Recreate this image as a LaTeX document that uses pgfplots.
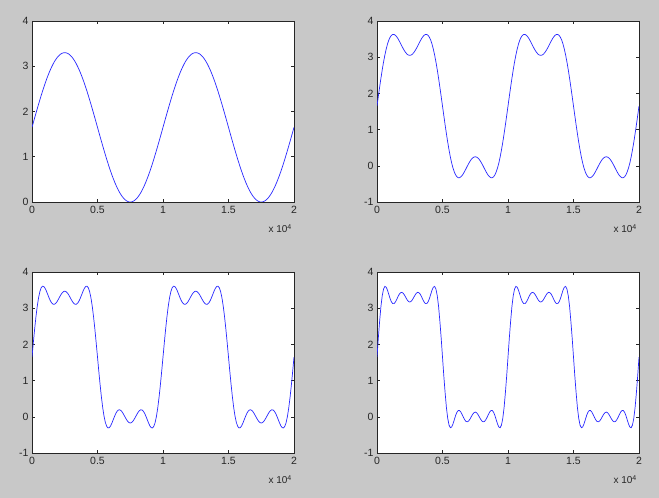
\documentclass[border=0pt]{standalone}
\usepackage{pgfplots}
\pgfplotsset{compat=1.18}
\usepackage{pgfplotstable}
\usepackage{fontspec}
\setmainfont{Liberation Sans}
\definecolor{bg}{RGB}{200,200,200}
\definecolor{ln}{RGB}{40,40,255}
\pgfplotstableread{
x a b c d
0 1.650 1.650 1.650 1.650
100 1.754 1.913 2.043 2.171
200 1.857 2.171 2.418 2.637
300 1.959 2.419 2.759 3.050
400 2.060 2.652 3.051 3.346
500 2.160 2.866 3.286 3.529
600 2.257 3.057 3.457 3.601
700 2.353 3.223 3.563 3.582
800 2.445 3.361 3.608 3.498
900 2.534 3.470 3.600 3.382
1000 2.620 3.551 3.551 3.265
1100 2.702 3.603 3.473 3.175
1200 2.779 3.628 3.380 3.127
1300 2.853 3.628 3.288 3.127
1400 2.921 3.606 3.206 3.169
1500 2.985 3.566 3.146 3.238
1600 3.043 3.512 3.112 3.317
1700 3.096 3.447 3.107 3.386
1800 3.143 3.377 3.130 3.429
1900 3.184 3.305 3.175 3.438
2000 3.219 3.237 3.237 3.413
2100 3.248 3.174 3.304 3.361
2200 3.271 3.123 3.369 3.295
2300 3.287 3.083 3.423 3.232
2400 3.297 3.059 3.458 3.187
2500 3.300 3.051 3.471 3.171
2600 3.297 3.059 3.458 3.187
2700 3.287 3.083 3.423 3.232
2800 3.271 3.123 3.369 3.295
2900 3.248 3.174 3.304 3.361
3000 3.219 3.237 3.237 3.413
3100 3.184 3.305 3.175 3.438
3200 3.143 3.377 3.130 3.429
3300 3.096 3.447 3.107 3.386
3400 3.043 3.512 3.112 3.317
3500 2.985 3.566 3.146 3.238
3600 2.921 3.606 3.206 3.169
3700 2.853 3.628 3.288 3.127
3800 2.779 3.628 3.380 3.127
3900 2.702 3.603 3.473 3.175
4000 2.620 3.551 3.551 3.265
4100 2.534 3.470 3.600 3.382
4200 2.445 3.361 3.608 3.498
4300 2.353 3.223 3.563 3.582
4400 2.257 3.057 3.457 3.601
4500 2.160 2.866 3.286 3.529
4600 2.060 2.652 3.051 3.346
4700 1.959 2.419 2.759 3.050
4800 1.857 2.171 2.418 2.637
4900 1.754 1.913 2.043 2.171
5000 1.650 1.650 1.650 1.650
5100 1.546 1.387 1.257 1.129
5200 1.443 1.129 0.882 0.663
5300 1.341 0.881 0.541 0.250
5400 1.240 0.648 0.249 -0.046
5500 1.140 0.434 0.014 -0.229
5600 1.043 0.243 -0.157 -0.301
5700 0.947 0.077 -0.263 -0.282
5800 0.855 -0.061 -0.308 -0.198
5900 0.766 -0.170 -0.300 -0.082
6000 0.680 -0.251 -0.251 0.035
6100 0.598 -0.303 -0.173 0.125
6200 0.521 -0.328 -0.080 0.173
6300 0.447 -0.328 0.012 0.173
6400 0.379 -0.306 0.094 0.131
6500 0.315 -0.266 0.154 0.062
6600 0.257 -0.212 0.188 -0.017
6700 0.204 -0.147 0.193 -0.086
6800 0.157 -0.077 0.170 -0.129
6900 0.116 -0.005 0.125 -0.138
7000 0.081 0.063 0.063 -0.113
7100 0.052 0.126 -0.004 -0.061
7200 0.029 0.177 -0.069 0.005
7300 0.013 0.217 -0.123 0.068
7400 0.003 0.241 -0.158 0.113
7500 0.000 0.249 -0.171 0.129
7600 0.003 0.241 -0.158 0.113
7700 0.013 0.217 -0.123 0.068
7800 0.029 0.177 -0.069 0.005
7900 0.052 0.126 -0.004 -0.061
8000 0.081 0.063 0.063 -0.113
8100 0.116 -0.005 0.125 -0.138
8200 0.157 -0.077 0.170 -0.129
8300 0.204 -0.147 0.193 -0.086
8400 0.257 -0.212 0.188 -0.017
8500 0.315 -0.266 0.154 0.062
8600 0.379 -0.306 0.094 0.131
8700 0.447 -0.328 0.012 0.173
8800 0.521 -0.328 -0.080 0.173
8900 0.598 -0.303 -0.173 0.125
9000 0.680 -0.251 -0.251 0.035
9100 0.766 -0.170 -0.300 -0.082
9200 0.855 -0.061 -0.308 -0.198
9300 0.947 0.077 -0.263 -0.282
9400 1.043 0.243 -0.157 -0.301
9500 1.140 0.434 0.014 -0.229
9600 1.240 0.648 0.249 -0.046
9700 1.341 0.881 0.541 0.250
9800 1.443 1.129 0.882 0.663
9900 1.546 1.387 1.257 1.129
10000 1.650 1.650 1.650 1.650
10100 1.754 1.913 2.043 2.171
10200 1.857 2.171 2.418 2.637
10300 1.959 2.419 2.759 3.050
10400 2.060 2.652 3.051 3.346
10500 2.160 2.866 3.286 3.529
10600 2.257 3.057 3.457 3.601
10700 2.353 3.223 3.563 3.582
10800 2.445 3.361 3.608 3.498
10900 2.534 3.470 3.600 3.382
11000 2.620 3.551 3.551 3.265
11100 2.702 3.603 3.473 3.175
11200 2.779 3.628 3.380 3.127
11300 2.853 3.628 3.288 3.127
11400 2.921 3.606 3.206 3.169
11500 2.985 3.566 3.146 3.238
11600 3.043 3.512 3.112 3.317
11700 3.096 3.447 3.107 3.386
11800 3.143 3.377 3.130 3.429
11900 3.184 3.305 3.175 3.438
12000 3.219 3.237 3.237 3.413
12100 3.248 3.174 3.304 3.361
12200 3.271 3.123 3.369 3.295
12300 3.287 3.083 3.423 3.232
12400 3.297 3.059 3.458 3.187
12500 3.300 3.051 3.471 3.171
12600 3.297 3.059 3.458 3.187
12700 3.287 3.083 3.423 3.232
12800 3.271 3.123 3.369 3.295
12900 3.248 3.174 3.304 3.361
13000 3.219 3.237 3.237 3.413
13100 3.184 3.305 3.175 3.438
13200 3.143 3.377 3.130 3.429
13300 3.096 3.447 3.107 3.386
13400 3.043 3.512 3.112 3.317
13500 2.985 3.566 3.146 3.238
13600 2.921 3.606 3.206 3.169
13700 2.853 3.628 3.288 3.127
13800 2.779 3.628 3.380 3.127
13900 2.702 3.603 3.473 3.175
14000 2.620 3.551 3.551 3.265
14100 2.534 3.470 3.600 3.382
14200 2.445 3.361 3.608 3.498
14300 2.353 3.223 3.563 3.582
14400 2.257 3.057 3.457 3.601
14500 2.160 2.866 3.286 3.529
14600 2.060 2.652 3.051 3.346
14700 1.959 2.419 2.759 3.050
14800 1.857 2.171 2.418 2.637
14900 1.754 1.913 2.043 2.171
15000 1.650 1.650 1.650 1.650
15100 1.546 1.387 1.257 1.129
15200 1.443 1.129 0.882 0.663
15300 1.341 0.881 0.541 0.250
15400 1.240 0.648 0.249 -0.046
15500 1.140 0.434 0.014 -0.229
15600 1.043 0.243 -0.157 -0.301
15700 0.947 0.077 -0.263 -0.282
15800 0.855 -0.061 -0.308 -0.198
15900 0.766 -0.170 -0.300 -0.082
16000 0.680 -0.251 -0.251 0.035
16100 0.598 -0.303 -0.173 0.125
16200 0.521 -0.328 -0.080 0.173
16300 0.447 -0.328 0.012 0.173
16400 0.379 -0.306 0.094 0.131
16500 0.315 -0.266 0.154 0.062
16600 0.257 -0.212 0.188 -0.017
16700 0.204 -0.147 0.193 -0.086
16800 0.157 -0.077 0.170 -0.129
16900 0.116 -0.005 0.125 -0.138
17000 0.081 0.063 0.063 -0.113
17100 0.052 0.126 -0.004 -0.061
17200 0.029 0.177 -0.069 0.005
17300 0.013 0.217 -0.123 0.068
17400 0.003 0.241 -0.158 0.113
17500 0.000 0.249 -0.171 0.129
17600 0.003 0.241 -0.158 0.113
17700 0.013 0.217 -0.123 0.068
17800 0.029 0.177 -0.069 0.005
17900 0.052 0.126 -0.004 -0.061
18000 0.081 0.063 0.063 -0.113
18100 0.116 -0.005 0.125 -0.138
18200 0.157 -0.077 0.170 -0.129
18300 0.204 -0.147 0.193 -0.086
18400 0.257 -0.212 0.188 -0.017
18500 0.315 -0.266 0.154 0.062
18600 0.379 -0.306 0.094 0.131
18700 0.447 -0.328 0.012 0.173
18800 0.521 -0.328 -0.080 0.173
18900 0.598 -0.303 -0.173 0.125
19000 0.680 -0.251 -0.251 0.035
19100 0.766 -0.170 -0.300 -0.082
19200 0.855 -0.061 -0.308 -0.198
19300 0.947 0.077 -0.263 -0.282
19400 1.043 0.243 -0.157 -0.301
19500 1.140 0.434 0.014 -0.229
19600 1.240 0.648 0.249 -0.046
19700 1.341 0.881 0.541 0.250
19800 1.443 1.129 0.882 0.663
19900 1.546 1.387 1.257 1.129
20000 1.650 1.650 1.650 1.650
}\datatable
\pgfplotsset{
  matsub/.style={
    anchor=south west,
    scale only axis,
    width=262pt, height=181pt,
    xmin=0, xmax=20000,
    xtick={0,5000,10000,15000,20000},
    xticklabels={0,0.5,1,1.5,2},
    scaled x ticks=false,
    ymax=4,
    tick align=inside,
    major tick length=3pt,
    tick style={black!85, line width=0.5pt},
    axis line style={black!85, line width=0.8pt},
    axis background/.style={fill=white},
    ticklabel style={font=\fontsize{10.5}{12}\selectfont, text=black!85},
    xticklabel style={yshift=-1pt},
    clip mode=individual,
  },
  x10/.style={},
}
\newcommand{\xten}{\node[anchor=north east, font=\fontsize{10}{12}\selectfont, text=black!85, inner sep=0pt] at (rel axis cs:1,0) [yshift=-22pt, xshift=-2pt] {x 10\textsuperscript{4}};}
\begin{document}
\begin{tikzpicture}
\fill[bg] (0,0) rectangle (659pt,498pt);
\begin{axis}[matsub, at={(32pt,296pt)}, ymin=0, ytick={0,1,2,3,4}, yticklabels={0,1,2,3,4}]
\addplot[ln, line width=0.7pt] table[x=x, y=a] {\datatable};
\xten
\end{axis}
\begin{axis}[matsub, at={(377pt,296pt)}, ymin=-1, ytick={-1,0,1,2,3,4}, yticklabels={-1,0,1,2,3,4}]
\addplot[ln, line width=0.7pt] table[x=x, y=b] {\datatable};
\xten
\end{axis}
\begin{axis}[matsub, at={(32pt,45pt)}, ymin=-1, ytick={-1,0,1,2,3,4}, yticklabels={-1,0,1,2,3,4}]
\addplot[ln, line width=0.7pt] table[x=x, y=c] {\datatable};
\xten
\end{axis}
\begin{axis}[matsub, at={(377pt,45pt)}, ymin=-1, ytick={-1,0,1,2,3,4}, yticklabels={-1,0,1,2,3,4}]
\addplot[ln, line width=0.7pt] table[x=x, y=d] {\datatable};
\xten
\end{axis}
\end{tikzpicture}
\end{document}
